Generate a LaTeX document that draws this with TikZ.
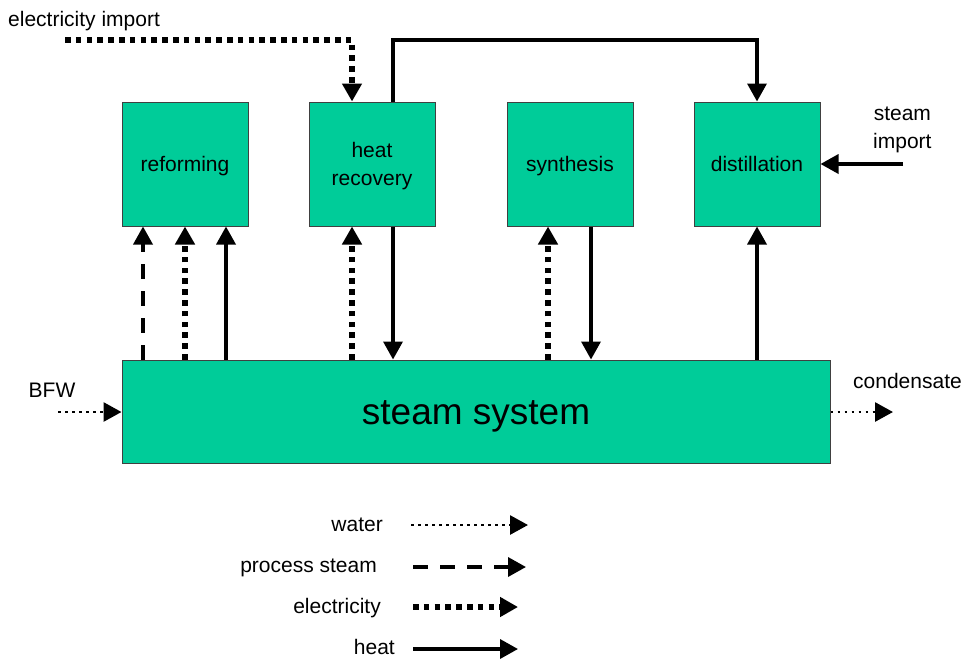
\documentclass[tikz,border=0pt]{standalone}
\usepackage{fontspec}
\setmainfont{Liberation Sans}
\usetikzlibrary{arrows.meta}
\definecolor{boxgreen}{RGB}{0,204,153}
\newcommand{\basedown}[2]{\smash{\raisebox{-#1}{#2}}}
\begin{document}
\begin{tikzpicture}[x=1pt,y=-1pt,
  box/.style={draw=black!75,line width=1pt,fill=boxgreen,minimum width=126pt,minimum height=124pt,inner sep=0pt,font=\fontsize{21}{28}\selectfont,align=center},
  lbl/.style={font=\fontsize{21}{28}\selectfont,inner sep=0pt,align=center},
  tip/.style={-{Triangle[length=18pt,width=19pt]}},
  heat/.style={tip,line width=3.5pt},
  elec/.style={tip,line width=5.5pt,dash pattern=on 5.5pt off 5.3pt},
  psteam/.style={tip,line width=3.5pt,dash pattern=on 15pt off 12pt},
  water/.style={tip,line width=2.8pt,dash pattern=on 2.8pt off 4.2pt}
]
\useasboundingbox (0,0) rectangle (963,659);

\node[box] (ref) at (185,164) {\basedown{7.5pt}{reforming}};
\node[box] (hr) at (372,164) {\basedown{21.5pt}{\begin{tabular}[b]{@{}c@{}}heat\\recovery\end{tabular}}};
\node[box] (syn) at (570,164) {\basedown{7.5pt}{synthesis}};
\node[box] (dist) at (757,164) {\basedown{7.5pt}{distillation}};
\node[box,minimum width=708pt,minimum height=103pt,font=\fontsize{37}{44}\selectfont] (sys) at (476,411.5) {\basedown{12.5pt}{steam system}};

% reforming
\draw[psteam] (sys.north -| 143,0) -- (ref.south -| 143,0);
\draw[elec] (sys.north -| 185,0) -- (ref.south -| 185,0);
\draw[heat] (sys.north -| 226,0) -- (ref.south -| 226,0);
% heat recovery
\draw[elec] (sys.north -| 352,0) -- (hr.south -| 352,0);
\draw[heat] (hr.south -| 393,0) -- (sys.north -| 393,0);
% synthesis
\draw[elec] (sys.north -| 548,0) -- (syn.south -| 548,0);
\draw[heat] (syn.south -| 591,0) -- (sys.north -| 591,0);
% distillation
\draw[heat] (sys.north -| 757,0) -- (dist.south);

% top connections
\node[lbl,anchor=west] (eil) at (8,21) {electricity import};
\coordinate (ei) at (65,40);
\draw[elec] (ei) -| (hr.north -| 352,0);
\coordinate (hc) at (393,40);
\draw[heat] (hr.north -| 393,0) -- (hc) -| (dist.north);

% steam import
\node[lbl,anchor=west] (sil) at (873,130) {steam\\import};
\coordinate (si) at (903,164);
\draw[heat] (si) -- (dist.east);

% BFW and condensate
\node[lbl] (bfwl) at (52,390) {BFW};
\coordinate (bfw) at (58,412);
\draw[water] (bfw) -- (sys.west |- bfw);
\node[lbl,anchor=west] (condl) at (853,381) {condensate};
\coordinate (cond) at (893,412);
\draw[water] (sys.east |- cond) -- (cond);

% legend
\node[lbl,anchor=east] (lw) at (383,525) {water};
\coordinate (lw1) at (411,525); \coordinate (lw2) at (528,525);
\draw[water] (lw1) -- (lw2);
\node[lbl,anchor=east] (lp) at (377,568) {process steam};
\coordinate (lp1) at (413,567); \coordinate (lp2) at (526,567);
\draw[psteam] (lp1) -- (lp2);
\node[lbl,anchor=east] (le) at (381,608) {electricity};
\coordinate (le1) at (413,607); \coordinate (le2) at (518,607);
\draw[elec] (le1) -- (le2);
\node[lbl,anchor=east] (lh) at (395,647) {heat};
\coordinate (lh1) at (413,649); \coordinate (lh2) at (518,649);
\draw[heat] (lh1) -- (lh2);
\end{tikzpicture}
\end{document}
